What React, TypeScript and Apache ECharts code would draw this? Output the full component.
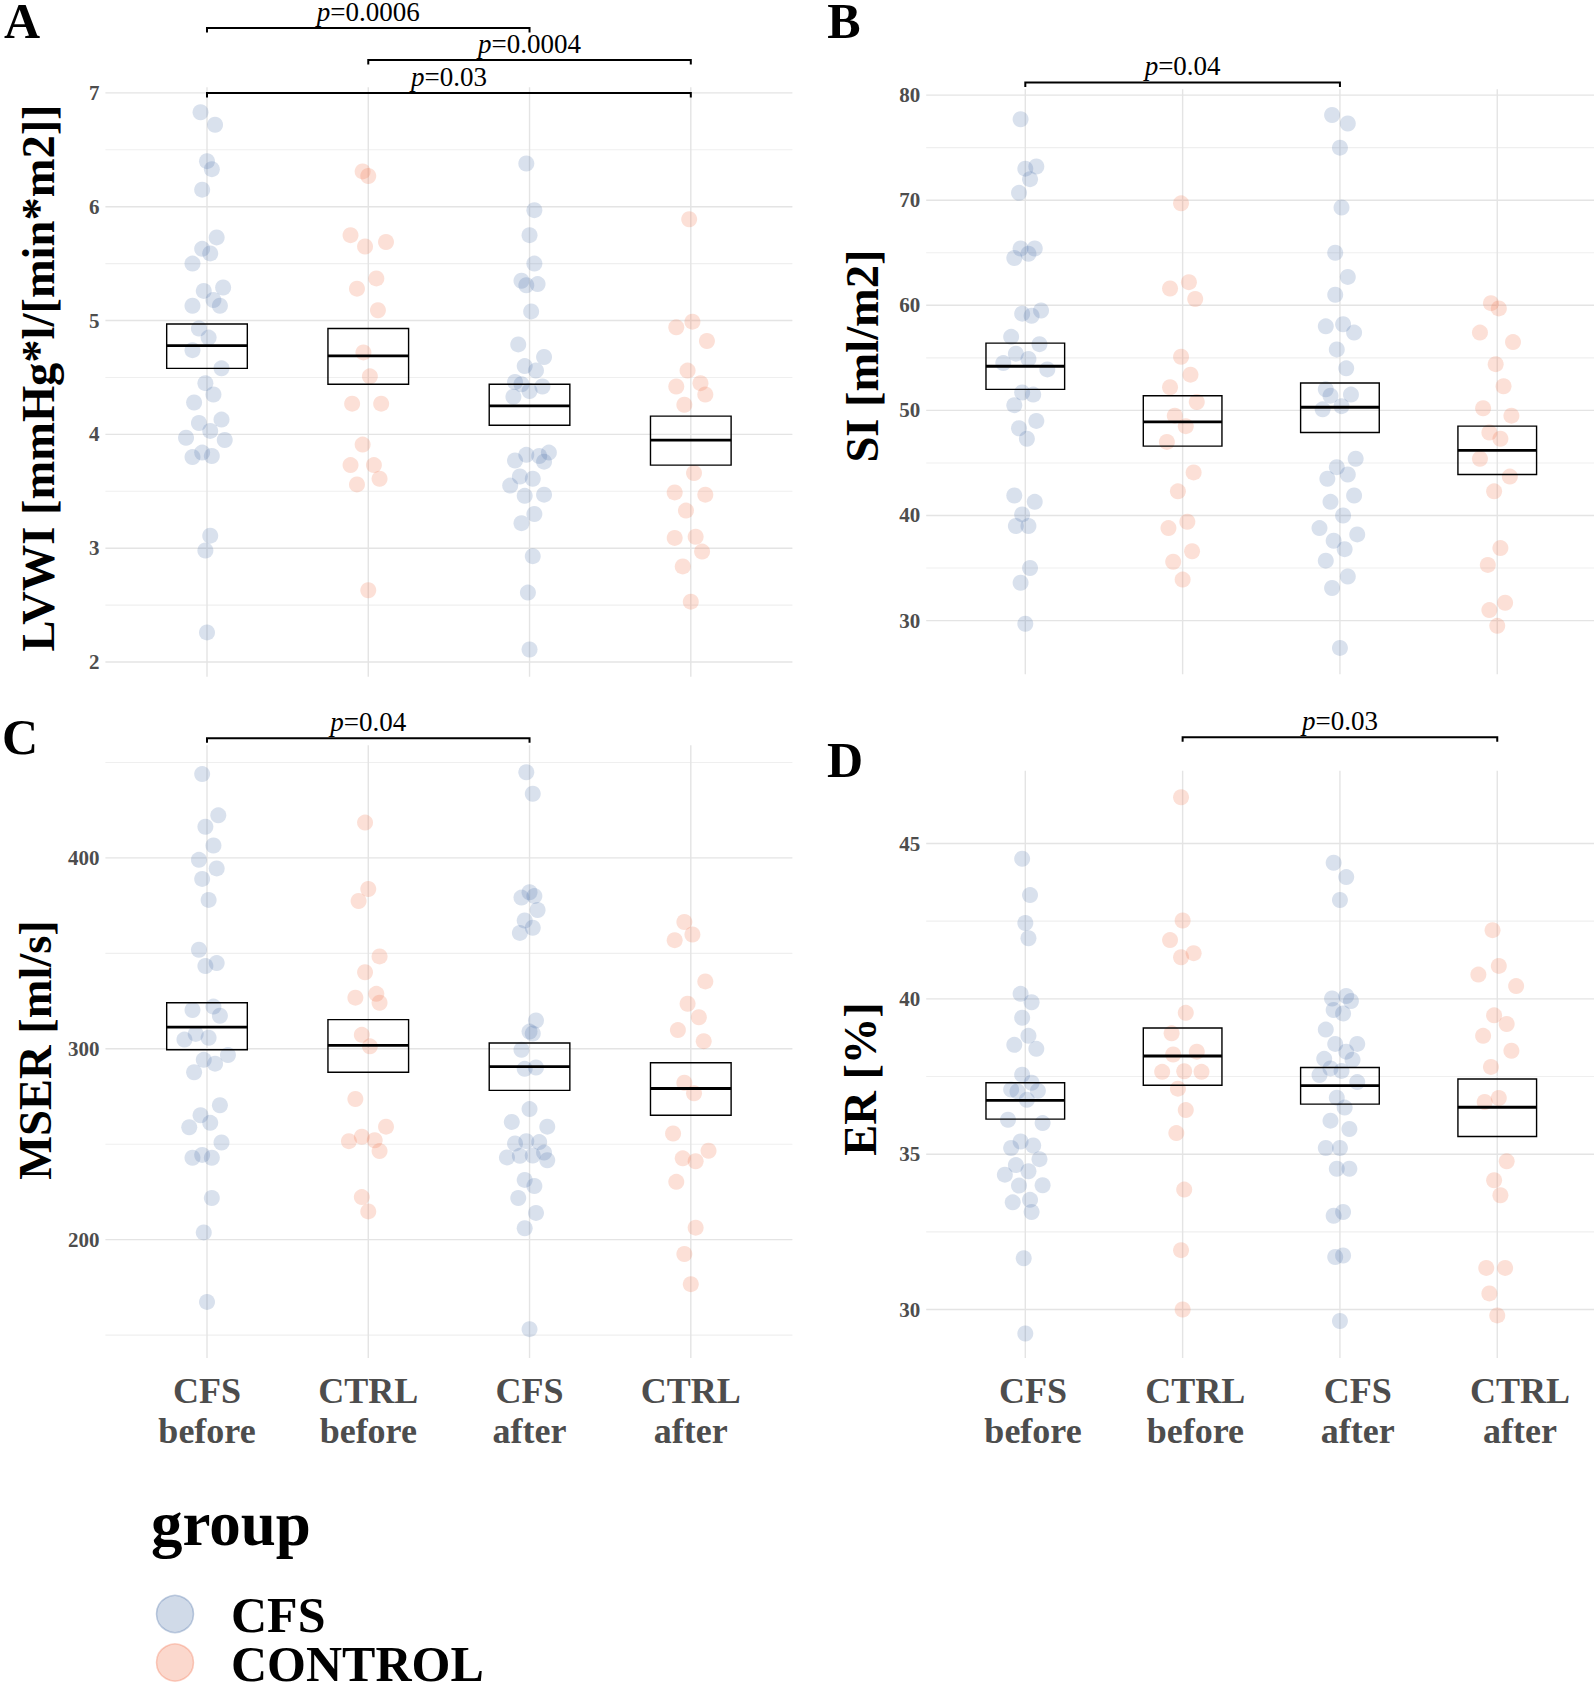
import React, { useEffect, useRef } from "react";
import * as echarts from "echarts";

const SERIF = "'Liberation Serif', 'Times New Roman', serif";
const GREY = "#4d4d4d";
const CFS_FILL = "rgba(58,100,160,0.24)";
const CTRL_FILL = "rgba(242,110,70,0.27)";

// x-axis categories (positions 1..4)
const categories = ["CFS\nbefore", "CTRL\nbefore", "CFS\nafter", "CTRL\nafter"];
const groupNames = ["CFS", "CONTROL"];

// ---------- Panel A: LVWI  [value, jitter] ----------
const lvwiCfsBefore = [[6.83,-0.04],[6.72,0.05],[6.40,0],[6.33,0.03],[6.15,-0.03],[5.73,0.06],[5.63,-0.03],[5.59,0.02],[5.50,-0.09],[5.29,0.10],[5.26,-0.02],[5.18,0.04],[5.13,-0.09],[5.13,0.08],[4.93,-0.05],[4.85,0.01],[4.74,-0.09],[4.58,0.09],[4.45,-0.01],[4.35,0.04],[4.28,-0.08],[4.13,0.09],[4.10,-0.05],[4.03,0.02],[3.97,-0.13],[3.95,0.11],[3.84,-0.03],[3.80,-0.09],[3.81,0.03],[3.11,0.02],[2.98,-0.01],[2.26,0]];
const lvwiCtrlBefore = [[6.31,-0.035],[6.27,0],[5.75,-0.11],[5.65,-0.02],[5.69,0.11],[5.37,0.05],[5.28,-0.07],[5.09,0.06],[4.72,-0.03],[4.51,0.01],[4.27,-0.10],[4.27,0.08],[3.91,-0.035],[3.73,-0.11],[3.73,0.035],[3.56,-0.07],[3.61,0.07],[2.63,0]];
const lvwiCfsAfter = [[6.38,-0.02],[5.97,0.03],[5.75,0],[5.50,0.03],[5.35,-0.05],[5.31,-0.02],[5.32,0.05],[5.08,0.01],[4.79,-0.07],[4.68,0.09],[4.60,-0.03],[4.56,0.04],[4.46,-0.09],[4.44,-0.05],[4.42,0.08],[4.38,0],[4.33,-0.10],[3.84,0.12],[3.82,-0.02],[3.81,0.06],[3.77,-0.09],[3.76,0.09],[3.63,-0.06],[3.61,0.02],[3.55,-0.12],[3.46,-0.03],[3.47,0.09],[3.30,0.03],[3.22,-0.05],[2.93,0.02],[2.61,-0.01],[2.11,0]];
const lvwiCtrlAfter = [[5.89,-0.01],[4.94,-0.09],[4.99,0.01],[4.82,0.10],[4.56,-0.02],[4.45,0.06],[4.42,-0.09],[4.35,0.09],[4.26,-0.04],[3.66,0.02],[3.49,-0.10],[3.47,0.09],[3.33,-0.03],[3.09,-0.10],[3.10,0.03],[2.97,0.07],[2.84,-0.05],[2.53,0]];
// [lower, mean, upper] per category
const lvwiBox = [[4.58,4.78,4.97],[4.44,4.69,4.93],[4.08,4.25,4.44],[3.73,3.95,4.16]];
// [from, to, y, p]
const lvwiBrackets = [[1,3,7.57,"0.0006"],[2,4,7.29,"0.0004"],[1,4,7.0,"0.03"]];
const lvwiTicks = [2,3,4,5,6,7];
const lvwiMinor = [2.5,3.5,4.5,5.5,6.5];

// ---------- Panel B: SI ----------
const siCfsBefore = [[77.7,-0.03],[73.0,0],[73.2,0.07],[72.0,0.03],[70.7,-0.04],[65.4,-0.03],[65.4,0.06],[64.9,0.02],[64.5,-0.07],[59.2,-0.02],[59.5,0.10],[59.0,0.04],[57.0,-0.09],[56.3,0.09],[55.4,-0.06],[54.5,-0.14],[54.9,0.02],[53.9,0.14],[51.7,-0.02],[51.5,0.05],[50.5,-0.07],[49.0,0.07],[48.3,-0.04],[47.3,0.01],[41.9,-0.07],[41.3,0.06],[40.1,-0.02],[39.0,-0.06],[39.0,0.02],[35.0,0.03],[33.6,-0.03],[29.7,0]];
const siCtrlBefore = [[69.7,-0.01],[61.6,-0.08],[62.2,0.04],[60.6,0.08],[55.1,-0.01],[53.4,0.05],[52.2,-0.08],[50.8,0.09],[49.5,-0.05],[48.5,0.02],[47.0,-0.10],[44.1,0.07],[42.3,-0.03],[39.4,0.03],[38.8,-0.09],[35.6,-0.06],[36.6,0.06],[33.9,0]];
const siCfsAfter = [[78.1,-0.05],[77.3,0.05],[75.0,0],[69.3,0.01],[65.0,-0.03],[62.7,0.05],[61.0,-0.03],[58.0,-0.09],[58.2,0.02],[57.4,0.09],[55.8,-0.02],[54.0,0.04],[52.0,-0.09],[51.4,-0.06],[51.5,0.07],[50.1,-0.11],[50.4,0.01],[45.4,0.10],[44.6,-0.02],[43.5,-0.08],[43.9,0.05],[41.9,0.09],[41.3,-0.06],[40.0,0.02],[38.8,-0.13],[38.2,0.11],[37.6,-0.04],[36.8,0.03],[35.7,-0.09],[34.2,0.05],[33.1,-0.05],[27.4,0]];
const siCtrlAfter = [[60.2,-0.04],[59.7,0.01],[57.4,-0.11],[56.5,0.10],[54.4,-0.01],[52.3,0.04],[50.2,-0.09],[49.5,0.09],[47.9,-0.05],[47.3,0.02],[45.4,-0.11],[43.7,0.08],[42.3,-0.02],[36.9,0.02],[35.3,-0.06],[31.7,0.05],[31.0,-0.05],[29.5,0]];
const siBox = [[52.0,54.2,56.4],[46.6,48.9,51.4],[47.9,50.3,52.6],[43.9,46.2,48.5]];
const siBrackets = [[1,3,81.2,"0.04"]];
const siTicks = [30,40,50,60,70,80];
const siMinor = [35,45,55,65,75];

// ---------- Panel C: MSER ----------
const mserCfsBefore = [[443.9,-0.03],[422.3,0.07],[416.3,-0.01],[406.5,0.04],[399.0,-0.05],[394.5,0.06],[389.0,-0.03],[378.0,0.01],[351.9,-0.05],[343.4,-0.01],[344.9,0.06],[320.3,-0.09],[322.1,0.04],[317.3,0.08],[304.8,-0.14],[307.8,-0.07],[305.8,0.01],[296.7,0.13],[294.2,-0.02],[292.2,0.05],[287.7,-0.08],[270.4,0.08],[265.2,-0.04],[258.9,-0.11],[261.2,0.02],[250.9,0.09],[244.4,-0.03],[242.9,-0.09],[242.9,0.03],[221.8,0.03],[203.8,-0.02],[167.4,0]];
const mserCtrlBefore = [[418.5,-0.02],[383.7,0],[377.4,-0.06],[348.4,0.07],[340.1,-0.02],[328.8,0.05],[326.8,-0.08],[324.1,0.07],[307.3,-0.04],[301.3,0.01],[273.7,-0.08],[259.2,0.11],[253.9,-0.04],[251.6,-0.12],[252.1,0.04],[246.4,0.07],[222.3,-0.04],[214.8,0]];
const mserCfsAfter = [[444.9,-0.02],[433.6,0.02],[382.0,0],[379.2,-0.05],[380.0,0.03],[372.7,0.05],[367.2,-0.03],[363.4,0.02],[360.7,-0.06],[314.8,0.04],[309.0,0],[308.0,0.02],[299.5,-0.05],[289.5,-0.03],[290.2,0.04],[268.4,0],[261.7,-0.11],[259.2,0.11],[250.4,-0.09],[251.6,-0.02],[251.1,0.06],[243.1,-0.14],[243.9,-0.06],[244.1,0.02],[245.6,0.09],[241.6,0.11],[231.3,-0.03],[228.1,0.03],[221.8,-0.07],[214.0,0.04],[206.0,-0.03],[153.1,0]];
const mserCtrlAfter = [[366.4,-0.04],[359.9,0.01],[356.9,-0.10],[335.3,0.09],[323.6,-0.02],[316.5,0.05],[309.8,-0.08],[304.0,0.08],[282.2,-0.04],[276.7,0.02],[255.6,-0.11],[246.6,0.11],[242.6,-0.05],[241.1,0.03],[230.3,-0.09],[206.3,0.03],[192.5,-0.04],[176.7,0]];
const mserBox = [[299.5,311.3,324.1],[287.7,301.8,315.3],[278.2,290.7,303.0],[265.2,279.2,292.7]];
const mserBrackets = [[1,3,462.7,"0.04"]];
const mserTicks = [200,300,400];
const mserMinor = [150,250,350,450];

// ---------- Panel D: ER ----------
const erCfsBefore = [[44.51,-0.02],[43.34,0.03],[42.44,0],[41.95,0.02],[40.16,-0.03],[39.89,0.04],[39.39,-0.02],[38.81,0.02],[38.52,-0.07],[38.39,0.07],[37.56,-0.02],[37.30,0.04],[37.08,-0.09],[37.02,-0.05],[37.04,0.08],[36.75,0.01],[36.11,-0.11],[36.00,0.11],[35.41,-0.03],[35.28,0.05],[35.20,-0.09],[34.84,0.09],[34.65,-0.06],[34.45,0.02],[34.34,-0.13],[34.00,0.11],[33.99,-0.04],[33.45,-0.08],[33.53,0.03],[33.14,0.04],[31.65,-0.01],[29.23,0]];
const erCtrlBefore = [[46.49,-0.01],[42.52,0],[41.89,-0.08],[41.47,0.07],[41.34,-0.01],[39.55,0.02],[38.89,-0.07],[38.21,-0.06],[38.30,0.09],[37.65,-0.13],[37.67,0.01],[37.65,0.12],[37.11,-0.03],[36.42,0.02],[35.68,-0.04],[33.86,0.01],[31.91,-0.01],[30.0,0]];
const erCfsAfter = [[44.38,-0.04],[43.92,0.04],[43.18,0],[40.01,-0.05],[40.09,0.04],[39.93,0.07],[39.64,-0.04],[39.53,0.02],[39.01,-0.09],[38.55,-0.03],[38.55,0.11],[38.30,0.04],[38.07,-0.10],[38.04,0.08],[37.76,-0.06],[37.68,0.01],[37.55,-0.13],[37.32,0.11],[36.82,-0.02],[36.50,0.03],[36.08,-0.06],[35.81,0.06],[35.20,-0.09],[35.20,0],[34.53,-0.02],[34.53,0.06],[33.02,-0.04],[33.14,0.02],[31.69,-0.03],[31.74,0.02],[29.63,0]];
const erCtrlAfter = [[42.21,-0.03],[41.06,0.01],[40.78,-0.12],[40.41,0.12],[39.47,-0.02],[39.19,0.06],[38.81,-0.09],[38.33,0.09],[37.81,-0.04],[36.68,-0.08],[36.81,0.01],[34.77,0.06],[34.16,-0.02],[33.68,0.02],[31.34,-0.07],[31.34,0.05],[30.52,-0.05],[29.81,0]];
const erBox = [[36.13,36.73,37.30],[37.22,38.16,39.06],[36.61,37.21,37.79],[35.57,36.51,37.42]];
const erBrackets = [[2,4,48.42,"0.03"]];
const erTicks = [30,35,40,45];
const erMinor = [32.5,37.5,42.5];

type Panel = {
  letter: string; title: string;
  grid: { left: number; top: number; width: number; height: number };
  xMin: number; xMax: number; yMin: number; yMax: number;
  ticks: number[]; minor: number[];
  groups: number[][][]; box: number[][]; brackets: any[];
  letterPos: [number, number]; titlePos: [number, number];
};

const panels: Panel[] = [
  { letter: "A", title: "LVWI [mmHg*l/[min*m2]]", grid: { left: 105.4, top: 87.2, width: 687, height: 589.6 },
    xMin: 0.37, xMax: 4.63, yMin: 1.87, yMax: 7.05, ticks: lvwiTicks, minor: lvwiMinor,
    groups: [lvwiCfsBefore, lvwiCtrlBefore, lvwiCfsAfter, lvwiCtrlAfter], box: lvwiBox, brackets: lvwiBrackets,
    letterPos: [22, 21], titlePos: [38, 378] },
  { letter: "B", title: "SI [ml/m2]", grid: { left: 926.2, top: 89.3, width: 667.8, height: 584.9 },
    xMin: 0.37, xMax: 4.615, yMin: 24.9, yMax: 80.55, ticks: siTicks, minor: siMinor,
    groups: [siCfsBefore, siCtrlBefore, siCfsAfter, siCtrlAfter], box: siBox, brackets: siBrackets,
    letterPos: [844, 21], titlePos: [862, 356] },
  { letter: "C", title: "MSER [ml/s]", grid: { left: 105.4, top: 745.3, width: 687, height: 612.7 },
    xMin: 0.37, xMax: 4.63, yMin: 138, yMax: 459, ticks: mserTicks, minor: mserMinor,
    groups: [mserCfsBefore, mserCtrlBefore, mserCfsAfter, mserCtrlAfter], box: mserBox, brackets: mserBrackets,
    letterPos: [20, 737], titlePos: [35, 1050] },
  { letter: "D", title: "ER [%]", grid: { left: 926.2, top: 770.8, width: 667.8, height: 587.2 },
    xMin: 0.37, xMax: 4.615, yMin: 28.44, yMax: 47.34, ticks: erTicks, minor: erMinor,
    groups: [erCfsBefore, erCtrlBefore, erCfsAfter, erCtrlAfter], box: erBox, brackets: erBrackets,
    letterPos: [845, 760], titlePos: [860, 1079] },
];

const xLabelStyle = {
  show: true, customValues: [1, 2, 3, 4],
  formatter: (v: number) => categories[Math.round(v) - 1] ?? "",
  fontFamily: SERIF, fontWeight: "bold", fontSize: 36, lineHeight: 40, color: GREY, margin: 13,
};

function buildOption() {
  const grid: any[] = [];
  const xAxis: any[] = [];
  const yAxis: any[] = [];
  const series: any[] = [];
  const graphic: any[] = [];

  panels.forEach((p, i) => {
    grid.push({ ...p.grid, outerBoundsMode: "none", containLabel: false });
    xAxis.push({
      gridIndex: i, type: "value", min: p.xMin, max: p.xMax, position: "bottom",
      axisLine: { show: false }, axisTick: { show: false }, splitLine: { show: false },
      axisLabel: i === 2 ? xLabelStyle : { show: false },
    });
    yAxis.push({
      gridIndex: i, type: "value", min: p.yMin, max: p.yMax,
      axisLine: { show: false }, axisTick: { show: false }, splitLine: { show: false },
      axisLabel: {
        show: true, customValues: p.ticks, formatter: (v: number) => String(v),
        fontFamily: SERIF, fontWeight: "bold", fontSize: 21, color: GREY, margin: 6,
      },
    });

    // grid lines
    const gl = [
      ...p.ticks.map((v) => [0, v, 1]),
      ...p.minor.map((v) => [0, v, 0]),
      ...[1, 2, 3, 4].map((v) => [1, v, 1]),
    ];
    const yRef = p.yMin;
    series.push({
      type: "custom", xAxisIndex: i, yAxisIndex: i, z: 0, silent: true, clip: false,
      data: gl,
      renderItem: (params: any, api: any) => {
        const cs = params.coordSys;
        const o = api.value(0), v = api.value(1), m = api.value(2);
        const style = { stroke: m ? "#e4e4e4" : "#efefef", lineWidth: m ? 1.4 : 1.1 };
        if (o === 0) {
          const y = api.coord([1, v])[1];
          return { type: "line", shape: { x1: cs.x, y1: y, x2: cs.x + cs.width, y2: y }, style };
        }
        const x = api.coord([v, yRef])[0];
        return { type: "line", shape: { x1: x, y1: cs.y, x2: x, y2: cs.y + cs.height }, style };
      },
    });

    // points
    const [cb, kb, ca, ka] = p.groups;
    series.push({
      type: "scatter", name: groupNames[0], xAxisIndex: i, yAxisIndex: i, z: 2, silent: true,
      symbol: "circle", symbolSize: 16,
      itemStyle: { color: CFS_FILL, borderWidth: 0 },
      data: [...cb.map(([v, j]) => [1 + j, v]), ...ca.map(([v, j]) => [3 + j, v])],
    });
    series.push({
      type: "scatter", name: groupNames[1], xAxisIndex: i, yAxisIndex: i, z: 2, silent: true,
      symbol: "circle", symbolSize: 16,
      itemStyle: { color: CTRL_FILL, borderWidth: 0 },
      data: [...kb.map(([v, j]) => [2 + j, v]), ...ka.map(([v, j]) => [4 + j, v])],
    });

    // mean +/- SE boxes
    series.push({
      type: "custom", xAxisIndex: i, yAxisIndex: i, z: 5, silent: true, clip: false,
      data: p.box.map((b, k) => [k + 1, b[0], b[1], b[2]]),
      renderItem: (params: any, api: any) => {
        const x = api.value(0);
        const lo = api.coord([x - 0.25, api.value(1)]);
        const hi = api.coord([x + 0.25, api.value(3)]);
        const md = api.coord([x, api.value(2)]);
        return {
          type: "group",
          children: [
            { type: "rect", shape: { x: lo[0], y: hi[1], width: hi[0] - lo[0], height: lo[1] - hi[1] },
              style: { fill: "none", stroke: "#000", lineWidth: 1.4 } },
            { type: "line", shape: { x1: lo[0], y1: md[1], x2: hi[0], y2: md[1] },
              style: { stroke: "#000", lineWidth: 2.8 } },
          ],
        };
      },
    });

    // significance brackets
    const br = p.brackets;
    series.push({
      type: "custom", xAxisIndex: i, yAxisIndex: i, z: 5, silent: true, clip: false,
      data: br.map((b) => [b[0], b[2], b[1]]),
      renderItem: (params: any, api: any) => {
        const p1 = api.coord([api.value(0), api.value(1)]);
        const p2 = api.coord([api.value(2), api.value(1)]);
        const label = br[params.dataIndex][3];
        return {
          type: "group",
          children: [
            { type: "polyline",
              shape: { points: [[p1[0], p1[1] + 4.5], [p1[0], p1[1]], [p2[0], p2[1]], [p2[0], p2[1] + 4.5]] },
              style: { stroke: "#000", lineWidth: 2, fill: "none" } },
            { type: "text", x: (p1[0] + p2[0]) / 2, y: p1[1] - 16,
              style: {
                text: `{i|p}{n|=${label}}`,
                rich: {
                  i: { fontStyle: "italic", fontSize: 27, fontFamily: SERIF, fill: "#000", lineHeight: 24 },
                  n: { fontSize: 27, fontFamily: SERIF, fill: "#000", lineHeight: 24 },
                },
                fontSize: 27, fontFamily: SERIF, fill: "#000", lineHeight: 24,
                align: "center", verticalAlign: "middle",
                textAlign: "center", textVerticalAlign: "middle",
              } },
          ],
        };
      },
    });

    graphic.push({
      type: "text", x: p.letterPos[0], y: p.letterPos[1],
      style: { text: p.letter, fontSize: 50, fontWeight: "bold", fontFamily: SERIF, fill: "#000", lineHeight: 38,
        align: "center", verticalAlign: "middle", textAlign: "center", textVerticalAlign: "middle" },
    });
    graphic.push({
      type: "text", x: p.titlePos[0], y: p.titlePos[1], rotation: Math.PI / 2,
      style: { text: p.title, fontSize: 46.5, fontWeight: "bold", fontFamily: SERIF, fill: "#000",
        align: "center", verticalAlign: "middle", textAlign: "center", textVerticalAlign: "middle" },
    });
  });

  // extra x label axis for panel D (its labels sit on a slightly wider spacing)
  xAxis.push({
    gridIndex: 3, type: "value", min: 0.342, max: 4.456, position: "bottom",
    axisLine: { show: false }, axisTick: { show: false }, splitLine: { show: false },
    axisLabel: xLabelStyle,
  });

  // legend
  graphic.push({
    type: "text", x: 151, y: 1524,
    style: { text: "group", fontSize: 63, fontWeight: "bold", fontFamily: SERIF, fill: "#000", lineHeight: 56,
      align: "left", verticalAlign: "middle", textAlign: "left", textVerticalAlign: "middle" },
  });
  const legendFills = [CFS_FILL, CTRL_FILL];
  const legendStrokes = ["rgba(58,100,160,0.3)", "rgba(242,110,70,0.32)"];
  groupNames.forEach((name, k) => {
    const cy = 1614 + k * 48.5;
    graphic.push({
      type: "circle", shape: { cx: 175, cy, r: 18.5 },
      style: { fill: legendFills[k], stroke: legendStrokes[k], lineWidth: 1.5 },
    });
    graphic.push({
      type: "text", x: 231, y: cy + 1,
      style: { text: name, fontSize: 50, fontWeight: "bold", fontFamily: SERIF, fill: "#000", lineHeight: 40,
        align: "left", verticalAlign: "middle", textAlign: "left", textVerticalAlign: "middle" },
    });
  });

  return {
    animation: false,
    backgroundColor: "#ffffff",
    textStyle: { fontFamily: SERIF },
    grid, xAxis, yAxis, series, graphic,
  };
}

export default function App() {
  const ref = useRef<HTMLDivElement>(null);
  useEffect(() => {
    document.body.style.margin = "0";
    const chart = echarts.init(ref.current as HTMLDivElement, null, { renderer: "svg" });
    chart.setOption(buildOption() as any);
    return () => chart.dispose();
  }, []);
  return <div ref={ref} style={{ width: 1594, height: 1686 }} />;
}
